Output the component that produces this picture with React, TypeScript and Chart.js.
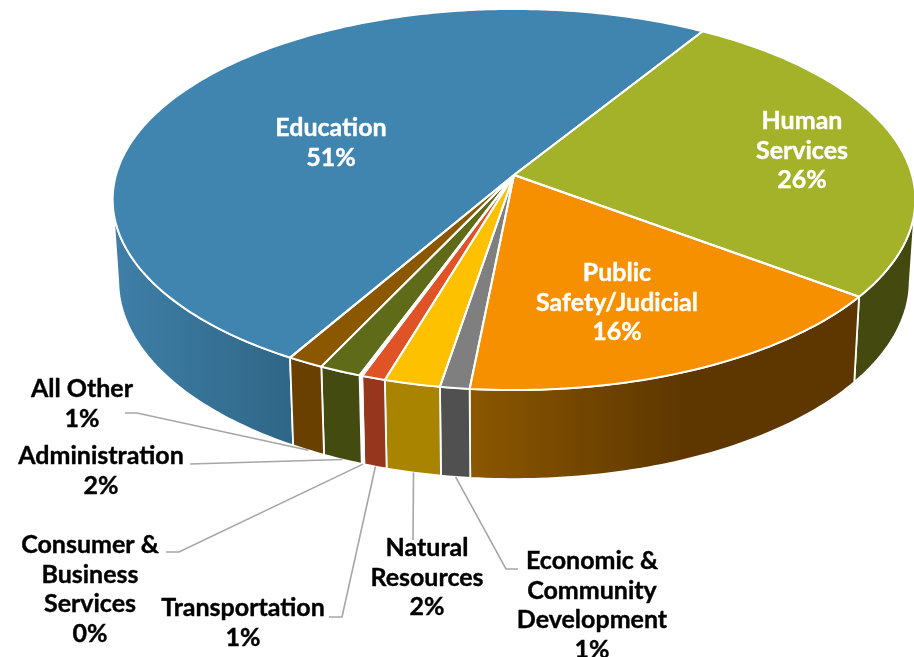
import React, { useEffect, useRef } from "react";
import { Chart, registerables } from "chart.js";

Chart.register(...registerables);

const categories = ["Education", "Human Services", "Public Safety/Judicial", "Economic & Community Development", "Natural Resources", "Transportation", "Consumer & Business Services", "Administration", "All Other"];
const values = [50.6, 26.49, 16.35, 1.05, 2.0, 0.85, 0.1, 1.5, 1.3];
const labelLines = [["Education"], ["Human", "Services"], ["Public", "Safety/Judicial"], ["Economic &", "Community", "Development"], ["Natural", "Resources"], ["Transportation"], ["Consumer &", "Business", "Services"], ["Administration"], ["All Other"]];
const topColors = ["#4085b0", "#a3b228", "#f79000", "#7f7f7f", "#fdc100", "#df5327", "#ffffff", "#5f6b18", "#8b5700"];
const wallFrom = ["#3f7fa8", "#44490f", "#8b5700", "#505050", "#a88400", "#96361c", "#ffffff", "#444b10", "#6a4000"];
const wallTo = ["#2f6686", "#44490f", "#5e3700", "#505050", "#a88400", "#96361c", "#ffffff", "#444b10", "#6a4000"];
const labelCenters = [[331, 128], [802, 121], [617, 273], [592, 561], [427, 548], [243, 608], [90, 545], [101, 456], [82, 389]];
const labelColors = ["#fff", "#fff", "#fff", "#000", "#000", "#000", "#000", "#000", "#000"];
const leaderElbows: number[][][] = [[], [], [], [[518, 569], [506, 569]], [[413, 540]], [[329, 617], [342, 617]], [[166, 552], [179, 552]], [[190, 464]], [[125, 413], [137, 413]]];

const CX = 514, CY = 175, R = 398, K = 187.4, P = 0.1286;
const LINE = 29.5;
const FONT = "bold 25px Lato";

const top = (a: number) => {
  const u = Math.cos(a), v = Math.sin(a), f = 1 / (1 - P * v);
  return [CX + R * u * f, CY + K * v * f];
};
const bottom = (a: number) => {
  const [x, y] = top(a);
  return [CX + (x - CX) * 0.986, y + 80 + 9 * Math.sin(a)];
};
const rad = (d: number) => (d * Math.PI) / 180;
const steps = (a: number, b: number) => {
  const n = Math.max(2, Math.ceil(((b - a) * 180) / Math.PI));
  return Array.from({ length: n + 1 }, (_, i) => a + ((b - a) * i) / n);
};

const pie3d = {
  id: "pie3d",
  beforeDatasetsDraw(chart: any) {
    const ctx: CanvasRenderingContext2D = chart.ctx;
    const arcs = chart.getDatasetMeta(0).data;
    ctx.save();
    ctx.lineJoin = "round";
    const lo = rad(8), hi = rad(172);
    const walls: any[] = [];
    arcs.forEach((arc: any, i: number) => {
      for (const off of [-2 * Math.PI, 0, 2 * Math.PI]) {
        const a = Math.max(arc.startAngle + off, lo), b = Math.min(arc.endAngle + off, hi);
        if (b > a) walls.push({ i, a, b });
      }
    });
    for (const w of walls) {
      const as = steps(w.a, w.b);
      const t = as.map(top), bt = as.map(bottom).reverse();
      const xs = [...t, ...bt].map((p) => p[0]);
      const g = ctx.createLinearGradient(Math.min(...xs), 0, Math.max(...xs), 0);
      g.addColorStop(0, wallFrom[w.i]);
      g.addColorStop(w.i === 2 ? 0.55 : 1, wallTo[w.i]);
      if (w.i === 2) g.addColorStop(1, wallTo[w.i]);
      ctx.beginPath();
      [...t, ...bt].forEach((p, j) => (j ? ctx.lineTo(p[0], p[1]) : ctx.moveTo(p[0], p[1])));
      ctx.closePath();
      ctx.fillStyle = g;
      ctx.fill();
      ctx.strokeStyle = "#fff";
      ctx.lineWidth = 1.8;
      ctx.stroke();
    }
    const slice = (arc: any) => {
      ctx.beginPath();
      ctx.moveTo(CX, CY);
      steps(arc.startAngle, arc.endAngle).map(top).forEach((p) => ctx.lineTo(p[0], p[1]));
      ctx.closePath();
    };
    arcs.forEach((arc: any) => {
      slice(arc);
      ctx.fillStyle = arc.options.backgroundColor;
      ctx.fill();
    });
    arcs.forEach((arc: any) => {
      slice(arc);
      ctx.strokeStyle = "#fff";
      ctx.lineWidth = 2;
      ctx.stroke();
    });
    ctx.restore();
    return false;
  },
  afterDraw(chart: any) {
    const ctx: CanvasRenderingContext2D = chart.ctx;
    const arcs = chart.getDatasetMeta(0).data;
    ctx.save();
    ctx.strokeStyle = "#a6a6a6";
    ctx.lineWidth = 1.6;
    arcs.forEach((arc: any, i: number) => {
      const elbows = leaderElbows[i];
      if (!elbows.length) return;
      const end = bottom((arc.startAngle + arc.endAngle) / 2);
      ctx.beginPath();
      elbows.forEach((p, j) => (j ? ctx.lineTo(p[0], p[1]) : ctx.moveTo(p[0], p[1])));
      ctx.lineTo(end[0], end[1]);
      ctx.stroke();
    });
    ctx.font = FONT;
    ctx.textAlign = "center";
    ctx.textBaseline = "middle";
    ctx.lineJoin = "round";
    ctx.lineWidth = 0.4;
    labelLines.forEach((lines, i) => {
      const [x, y] = labelCenters[i];
      ctx.fillStyle = labelColors[i];
      ctx.strokeStyle = labelColors[i];
      [...lines, `${Math.floor(values[i] + 0.5)}%`].forEach((s, j) => {
        ctx.fillText(s, x, y + j * LINE);
        ctx.strokeText(s, x, y + j * LINE);
      });
    });
    ctx.restore();
  },
};

export default function App() {
  const ref = useRef<HTMLCanvasElement>(null);
  useEffect(() => {
    document.body.style.margin = "0";
    const chart = new Chart(ref.current as HTMLCanvasElement, {
      type: "pie",
      data: { labels: categories, datasets: [{ data: values, backgroundColor: topColors }] },
      options: {
        animation: false,
        responsive: false,
        rotation: 210.0,
        plugins: { legend: { display: false }, tooltip: { enabled: false } },
      },
      plugins: [pie3d],
    } as any);
    return () => chart.destroy();
  }, []);
  return <canvas ref={ref} width={914} height={657} style={{ display: "block" }} />;
}
